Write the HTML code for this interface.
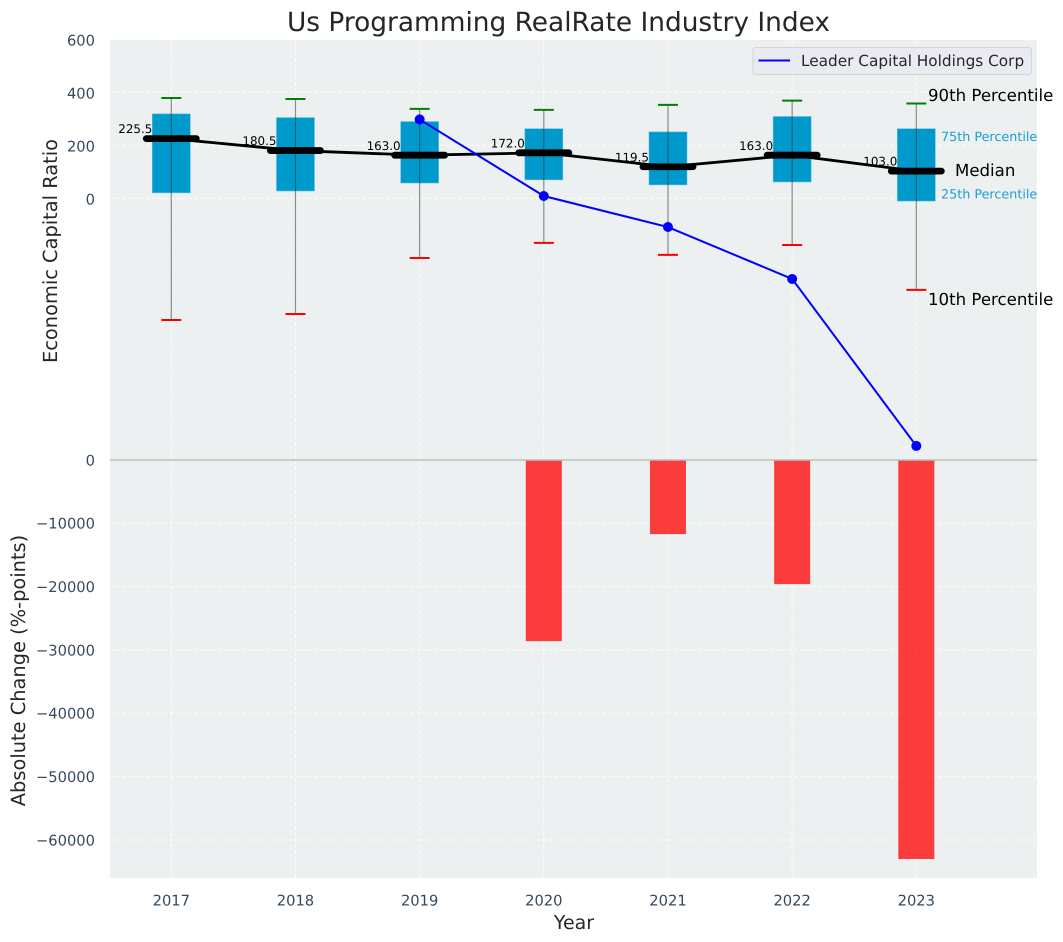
<!DOCTYPE html>
<html>
<head>
<meta charset="utf-8">
<title>Us Programming RealRate Industry Index</title>
<style>
html,body{margin:0;padding:0;background:#fff;}
svg{display:block;font-family:"DejaVu Sans","Liberation Sans",sans-serif;text-rendering:geometricPrecision;}
</style>
</head>
<body>
<svg id="chart" width="1063" height="942" viewBox="0 0 1063 942" xmlns="http://www.w3.org/2000/svg">
  <rect x="110" y="40" width="927" height="838" fill="#ecf0f1"/>
  <g id="grid"></g>
  <g id="bars"></g>
  <g id="boxes"></g>
  <g id="zero"></g>
  <g id="medians"></g>
  <g id="leader"></g>
  <g id="ticks"></g>

  <text x="558.5" y="31" font-size="26.4" text-anchor="middle" fill="#262626">Us Programming RealRate Industry Index</text>
  <text x="574" y="929" font-size="19" text-anchor="middle" fill="#262626">Year</text>
  <text transform="translate(57,251) rotate(-90)" font-size="19.4" text-anchor="middle" fill="#262626">Economic Capital Ratio</text>
  <text transform="translate(25,670.5) rotate(-90)" font-size="19.4" text-anchor="middle" fill="#262626">Absolute Change (%-points)</text>

  <g>
    <rect x="753" y="47.5" width="278.5" height="27" rx="3" fill="#eaeaf2" stroke="#d2d4d8" stroke-width="1"/>
    <line x1="758.5" y1="60.5" x2="790" y2="60.5" stroke="#0000ff" stroke-width="2"/>
    <text x="801" y="66" font-size="15.3" fill="#262626">Leader Capital Holdings Corp</text>
  </g>

  <text x="928" y="101" font-size="16.6" fill="#000">90th Percentile</text>
  <text x="941" y="141" font-size="12.75" fill="#1a9fcf">75th Percentile</text>
  <text x="955" y="176" font-size="16.6" fill="#000">Median</text>
  <text x="941" y="198.5" font-size="12.75" fill="#1a9fcf">25th Percentile</text>
  <text x="928" y="305" font-size="16.6" fill="#000">10th Percentile</text>
</svg>
<script>
var years = [2017, 2018, 2019, 2020, 2021, 2022, 2023];
var p90 = [379, 375, 338, 334, 353, 369, 358];
var p75 = [319, 305, 290, 263, 251, 309, 263];
var medians = [225.5, 180.5, 163.0, 172.0, 119.5, 163.0, 103.0];
var p25 = [21, 28, 58, 70, 51, 62, -10];
var p10 = [-459, -436, -225, -168, -213, -176, -345];
var leaderValues = [null, null, 298, 9, -108, -304, -934];
var absoluteChange = [null, null, null, -28600, -11700, -19600, -63000];
var topTicks = [0, 200, 400, 600];
var bottomTicks = [0, -10000, -20000, -30000, -40000, -50000, -60000];

var NS = 'http://www.w3.org/2000/svg';
function xScale(year) { return 171.3 + (year - 2017) * 124.17; }
function yTop(v) { return 198.4 - v * 0.265; }
function yBottom(v) { return 460 - v * 0.0063333; }
function make(parent, tag, props) {
  var el = document.createElementNS(NS, tag);
  for (var k in props) el.setAttribute(k, props[k]);
  parent.appendChild(el);
  return el;
}
var grid = document.getElementById('grid');
var bars = document.getElementById('bars');
var boxes = document.getElementById('boxes');
var zero = document.getElementById('zero');
var medianGroup = document.getElementById('medians');
var leader = document.getElementById('leader');
var ticks = document.getElementById('ticks');
var TICK_COLOR = '#34495e';
var el;

function fmt(v) { return v < 0 ? '\u2212' + Math.abs(v) : String(v); }

years.forEach(function (year) {
  var x = xScale(year);
  el = make(grid, 'line', {x1: x, x2: x, y1: 40, y2: 878, stroke: '#fff', 'stroke-width': 1, 'stroke-dasharray': '4 2', opacity: 0.85});
  
  
  el = make(ticks, 'text', {x: x, y: 905.5, 'font-size': 14.7, 'text-anchor': 'middle', fill: TICK_COLOR});
  
  
  el.textContent = year;
});

topTicks.forEach(function (t) {
  var y = yTop(t);
  el = make(grid, 'line', {x1: 110, x2: 1037, y1: y, y2: y, stroke: '#fff', 'stroke-width': 1, 'stroke-dasharray': '4 2', opacity: 0.85});
  
  
  el = make(ticks, 'text', {x: 95, y: y + 5.9, 'font-size': 14.7, 'text-anchor': 'end', fill: TICK_COLOR});
  
  
  el.textContent = fmt(t);
});

bottomTicks.forEach(function (t) {
  var y = yBottom(t);
  el = make(grid, 'line', {x1: 110, x2: 1037, y1: y, y2: y, stroke: '#fff', 'stroke-width': 1, 'stroke-dasharray': '4 2', opacity: 0.85});
  
  
  el = make(ticks, 'text', {x: 95, y: y + 5.3, 'font-size': 14.7, 'text-anchor': 'end', fill: TICK_COLOR});
  
  
  el.textContent = fmt(t);
});

absoluteChange.forEach(function (v, i) {
  if (v === null) return;
  var x = xScale(years[i]);
  el = make(bars, 'rect', {x: x - 18, y: yBottom(0), width: 36, height: yBottom(v) - yBottom(0), fill: '#ff0000', 'fill-opacity': 0.75});
  
  
});

el = make(zero, 'line', {x1: 110, x2: 1037, y1: yBottom(0), y2: yBottom(0), stroke: '#bdbdbd', 'stroke-width': 1.4});



years.forEach(function (year, i) {
  var x = xScale(year);
  el = make(boxes, 'rect', {x: x - 19, y: yTop(p75[i]), width: 38, height: yTop(p25[i]) - yTop(p75[i]), fill: '#0099cc', stroke: '#5cc0e0', 'stroke-width': 0.6});
  
  
  el = make(boxes, 'line', {x1: x, x2: x, y1: yTop(p90[i]), y2: yTop(p10[i]), stroke: '#333', 'stroke-opacity': 0.55, 'stroke-width': 1.2});
  
  
  el = make(boxes, 'line', {x1: x - 10, x2: x + 10, y1: yTop(p90[i]), y2: yTop(p90[i]), stroke: '#008000', 'stroke-width': 2});
  
  
  el = make(boxes, 'line', {x1: x - 10, x2: x + 10, y1: yTop(p10[i]), y2: yTop(p10[i]), stroke: '#ff0000', 'stroke-width': 2});
  
  
});

var medianPoints = medians.map(function (v, i) { return xScale(years[i]) + ',' + yTop(v); }).join(' ');
el = make(medianGroup, 'polyline', {points: medianPoints, fill: 'none', stroke: '#000', 'stroke-width': 2.8});



medians.forEach(function (v, i) {
  var x = xScale(years[i]);
  el = make(medianGroup, 'line', {x1: x - 25, x2: x + 25, y1: yTop(v), y2: yTop(v), stroke: '#000', 'stroke-width': 6.8, 'stroke-linecap': 'round'});
  
  
  el = make(medianGroup, 'text', {x: x - 19, y: yTop(v) - 5.4, 'font-size': 11.9, 'text-anchor': 'end', fill: '#000'});
  
  
  el.textContent = v.toFixed(1);
});

var leaderPoints = [];
leaderValues.forEach(function (v, i) {
  if (v !== null) leaderPoints.push(xScale(years[i]) + ',' + yTop(v));
});
el = make(leader, 'polyline', {points: leaderPoints.join(' '), fill: 'none', stroke: '#0000ff', 'stroke-width': 2});



leaderValues.forEach(function (v, i) {
  if (v === null) return;
  el = make(leader, 'circle', {cx: xScale(years[i]), cy: yTop(v), r: 5, fill: '#0000ff'});
  
  
});
</script>
</body>
</html>
